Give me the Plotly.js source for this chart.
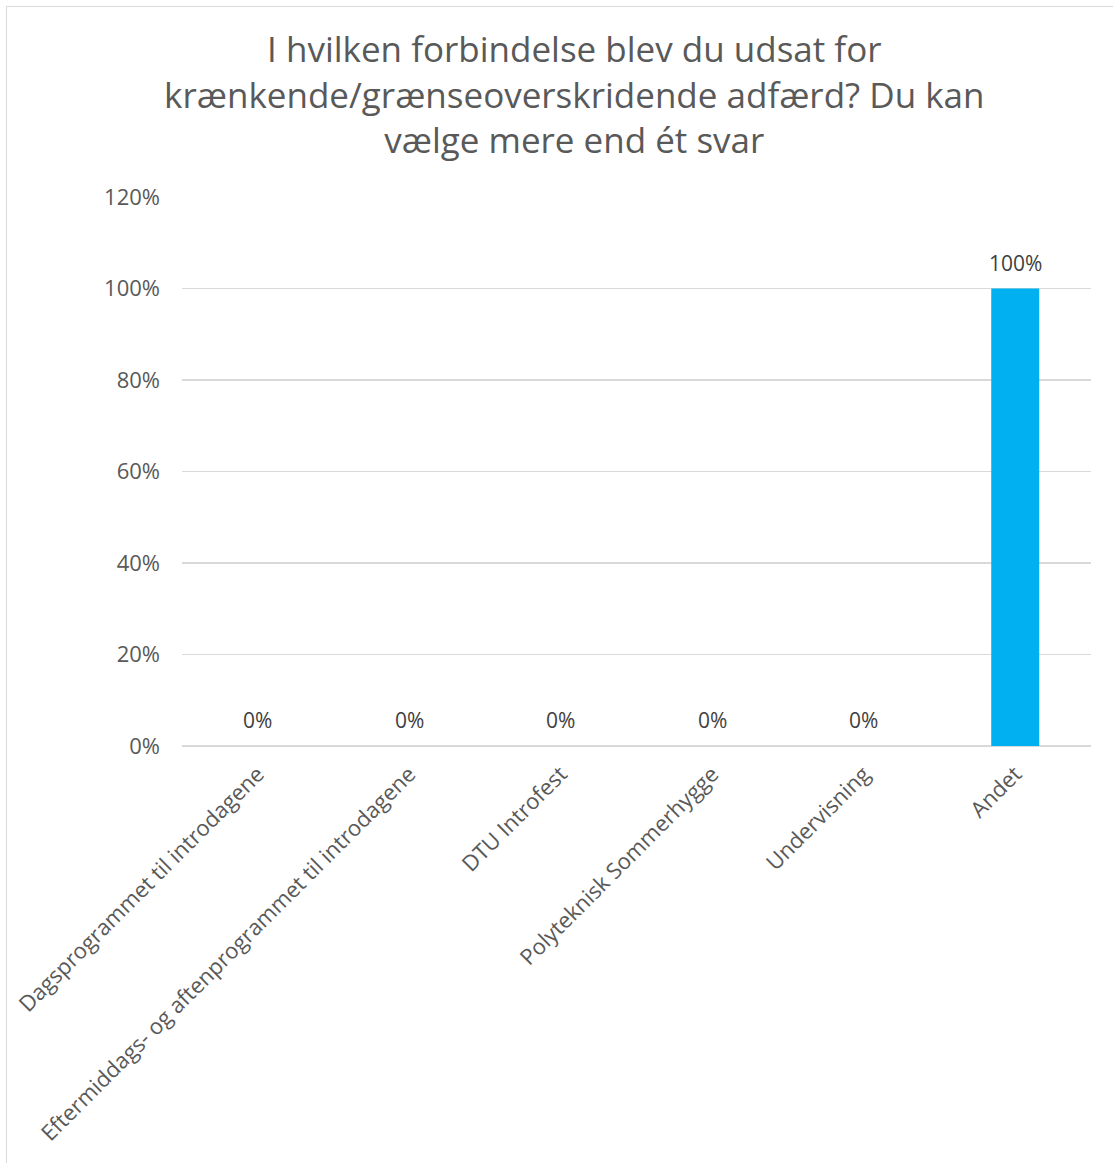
<!DOCTYPE html>
<html>
<head>
<meta charset="utf-8">
<script src="https://cdn.plot.ly/plotly-3.0.1.min.js"></script>
<style>
html,body{margin:0;padding:0;background:#fff;}
#wrap{position:relative;width:1113px;height:1163px;overflow:hidden;}
#chart{position:absolute;left:0;top:0;width:1113px;height:1163px;}
#frame{position:absolute;left:6px;top:6px;width:1120px;height:1170px;border:1.5px solid #d9d9d9;pointer-events:none;}
</style>
</head>
<body>
<div id="wrap"><div id="chart"></div><div id="frame"></div></div>
<script>
const categories = [
  "Dagsprogrammet til introdagene",
  "Eftermiddags- og aftenprogrammet til introdagene",
  "DTU Introfest",
  "Polyteknisk Sommerhygge",
  "Undervisning",
  "Andet"
];
const values = [0, 0, 0, 0, 0, 1.0];
const titleText = "I hvilken forbindelse blev du udsat for<br>krænkende/grænseoverskridende adfærd? Du kan<br>vælge mere end ét svar";

const FONT = "Open Sans, Noto Sans, sans-serif";

const trace = {
  type: "bar",
  x: categories,
  y: values,
  marker: {color: "#00b0f0"},
  hoverinfo: "x+y"
};

const annotations = categories.map((c, i) => ({
  x: c, y: values[i], xref: "x", yref: "y",
  text: Math.round(values[i] * 100) + "%",
  showarrow: false, yanchor: "bottom", yshift: 10,
  font: {family: FONT, size: 21, color: "#404040"}
}));

const layout = {
  width: 1113, height: 1163,
  paper_bgcolor: "#fff", plot_bgcolor: "#fff",
  margin: {l: 182, r: 22, t: 197, b: 417},
  showlegend: false,
  bargap: 0.683,
  title: {
    text: titleText,
    x: 0.516, xanchor: "center", xref: "container",
    y: 0.9465, yanchor: "top", yref: "container",
    font: {family: FONT, size: 35, color: "#595959"}
  },
  xaxis: {
    type: "category",
    tickangle: -45,
    tickfont: {family: FONT, size: 22, color: "#595959"},
    showgrid: false, showline: false, zeroline: false,
    ticks: "",
    ticklabelstandoff: 10
  },
  yaxis: {
    range: [0, 1.2],
    tickvals: [0, 0.2, 0.4, 0.6, 0.8, 1.0, 1.2],
    tickformat: ".0%",
    tickfont: {family: FONT, size: 22, color: "#595959"},
    gridcolor: "#d9d9d9", gridwidth: 1.5,
    zeroline: true, zerolinecolor: "#d9d9d9", zerolinewidth: 1.5,
    showline: false, ticks: "",
    ticklabelstandoff: 21
  },
  annotations: annotations
};

Plotly.newPlot("chart", [trace], layout, {displayModeBar: false, staticPlot: true});
</script>
</body>
</html>
